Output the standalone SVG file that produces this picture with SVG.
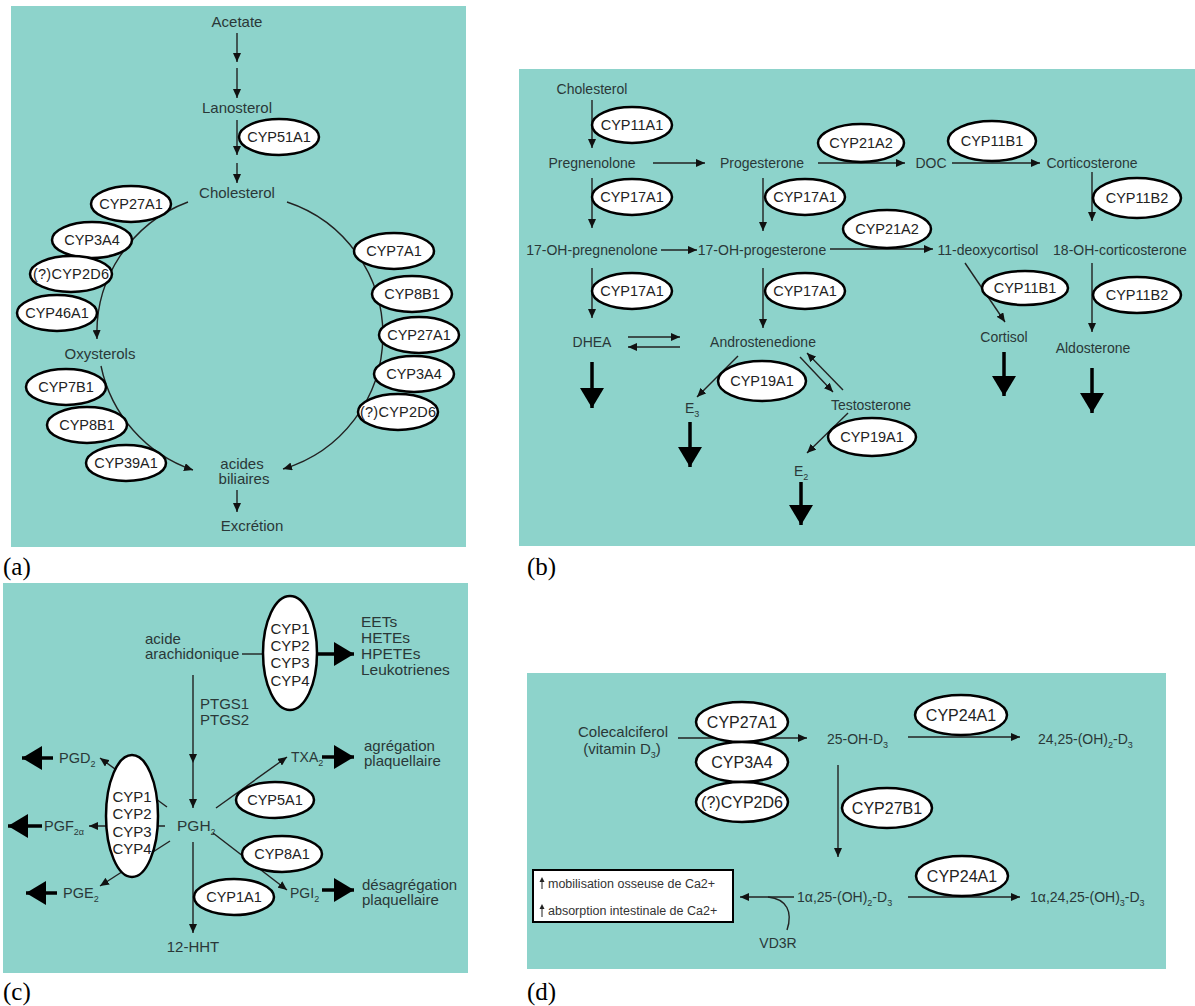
<svg xmlns="http://www.w3.org/2000/svg" width="1195" height="1006" viewBox="0 0 1195 1006">
<defs>
<marker id="a" markerWidth="9" markerHeight="8" refX="9" refY="4" orient="auto" markerUnits="userSpaceOnUse"><path d="M0,0 L9,4 L0,8 z" fill="#111"/></marker>
<marker id="big" markerWidth="20" markerHeight="24" refX="20" refY="12" orient="auto" markerUnits="userSpaceOnUse"><path d="M0,0 L20,12 L0,24 z" fill="#000"/></marker>
</defs>
<style>
.bg{fill:#8dd3cb}
.t{font-family:"Liberation Sans",Arial,sans-serif;font-size:14px;fill:#2a3838}
.ta{font-size:15px}
.tc{font-size:15px}
.tm{text-anchor:middle}
.e{fill:#fff;stroke:#000;stroke-width:2.5}
.el{font-family:"Liberation Sans",Arial,sans-serif;font-size:14.5px;fill:#222;text-anchor:middle}
.c{stroke:#222;stroke-width:1.4;fill:none}
.ar{marker-end:url(#a)}
.th{stroke:#000;stroke-width:3.5;fill:none;marker-end:url(#big)}
.lab{font-family:"Liberation Serif","Times New Roman",serif;font-size:25px;fill:#000}
.sm{font-size:9px}
.box{fill:#fff;stroke:#000;stroke-width:2}
.bt{font-family:"Liberation Sans",Arial,sans-serif;font-size:12.5px;fill:#333}
</style>
<rect class="bg" x="11" y="6" width="455" height="541"/>
<rect class="bg" x="519" y="69" width="676" height="477"/>
<rect class="bg" x="3" y="583" width="465" height="390"/>
<rect class="bg" x="527" y="673" width="639" height="296"/>
<text class="lab" x="3" y="575">(a)</text>
<text class="lab" x="527" y="575">(b)</text>
<text class="lab" x="3" y="1000">(c)</text>
<text class="lab" x="527" y="1000">(d)</text>

<g id="connectors">
<!-- (a) -->
<line class="c ar" x1="237" y1="33" x2="237" y2="62"/>
<line class="c ar" x1="237" y1="68" x2="237" y2="98"/>
<line class="c ar" x1="237" y1="120" x2="237" y2="155"/>
<line class="c ar" x1="237" y1="163" x2="237" y2="183"/>
<path class="c ar" d="M188,202 A140,140 0 0 0 97,339"/>
<path class="c ar" d="M101,366 A140,140 0 0 0 193,470"/>
<path class="c ar" d="M287,202 A140,140 0 0 1 283,469"/>
<line class="c ar" x1="237" y1="490" x2="237" y2="512"/>
<!-- (b) -->
<line class="c ar" x1="592" y1="100" x2="592" y2="148"/>
<line class="c ar" x1="653" y1="163" x2="705" y2="163"/>
<line class="c ar" x1="592" y1="178" x2="592" y2="228"/>
<line class="c ar" x1="763" y1="178" x2="763" y2="231"/>
<line class="c ar" x1="818" y1="163" x2="905" y2="163"/>
<line class="c ar" x1="952" y1="163" x2="1040" y2="163"/>
<line class="c ar" x1="1092" y1="172" x2="1092" y2="221"/>
<line class="c ar" x1="661" y1="250" x2="697" y2="250"/>
<line class="c ar" x1="830" y1="249" x2="933" y2="249"/>
<line class="c ar" x1="592" y1="268" x2="592" y2="318"/>
<line class="c ar" x1="763" y1="268" x2="763" y2="328"/>
<line class="c ar" x1="628" y1="337" x2="680" y2="337"/>
<line class="c ar" x1="680" y1="347" x2="628" y2="347"/>
<line class="c ar" x1="738" y1="356" x2="697" y2="397"/>
<line class="c ar" x1="800" y1="357" x2="833" y2="392"/>
<line class="c ar" x1="843" y1="390" x2="807" y2="353"/>
<line class="c ar" x1="848" y1="413" x2="807" y2="453"/>
<line class="c ar" x1="965" y1="263" x2="1005" y2="322"/>
<line class="c ar" x1="1092" y1="263" x2="1092" y2="332"/>
<line class="th" x1="592" y1="362" x2="592" y2="408"/>
<line class="th" x1="690" y1="422" x2="690" y2="467"/>
<line class="th" x1="801" y1="482" x2="801" y2="525"/>
<line class="th" x1="1004" y1="352" x2="1004" y2="396"/>
<line class="th" x1="1092" y1="368" x2="1092" y2="413"/>
<!-- (c) -->
<line class="c" x1="242" y1="654" x2="264" y2="654"/>
<line class="th" x1="317" y1="654" x2="354" y2="654"/>
<line class="c ar" x1="193" y1="675" x2="193" y2="763"/>
<line class="c ar" x1="193" y1="763" x2="193" y2="808"/>
<line class="c ar" x1="216" y1="808" x2="287" y2="757"/>
<line class="th" x1="322" y1="757" x2="354" y2="757"/>
<line class="c ar" x1="213" y1="833" x2="287" y2="890"/>
<line class="th" x1="322" y1="890" x2="354" y2="890"/>
<line class="c ar" x1="193" y1="842" x2="193" y2="933"/>
<line class="c ar" x1="167" y1="807" x2="100" y2="758"/>
<line class="c ar" x1="165" y1="826" x2="89" y2="826"/>
<line class="c ar" x1="170" y1="841" x2="100" y2="886"/>
<line class="th" x1="53" y1="758" x2="22" y2="758"/>
<line class="th" x1="42" y1="826" x2="8" y2="826"/>
<line class="th" x1="57" y1="893" x2="26" y2="893"/>
<!-- (d) -->
<line class="c ar" x1="678" y1="738" x2="807" y2="738"/>
<line class="c ar" x1="908" y1="737" x2="1020" y2="737"/>
<line class="c ar" x1="838" y1="765" x2="838" y2="857"/>
<line class="c ar" x1="908" y1="897" x2="1020" y2="897"/>
<line class="c ar" x1="794" y1="897" x2="740" y2="897"/>
<path class="c" d="M787,930 C793,912 787,899 768,897"/>
</g>

<!-- (a) nodes -->
<g id="a-text">
<text class="t ta tm" x="237" y="27">Acetate</text>
<text class="t ta tm" x="237" y="113">Lanosterol</text>
<text class="t ta tm" x="237" y="198">Cholesterol</text>
<text class="t ta tm" x="100" y="359">Oxysterols</text>
<text class="t ta tm" x="242" y="469">acides</text>
<text class="t ta tm" x="244" y="484">biliaires</text>
<text class="t ta tm" x="252" y="531">Excrétion</text>
</g>
<g id="a-CYP51A1"><ellipse class="e" cx="279" cy="137" rx="40" ry="18"/><text class="el" x="279" y="142">CYP51A1</text></g>
<g id="a-CYP27A1-l"><ellipse class="e" cx="131" cy="204" rx="40" ry="18"/><text class="el" x="131" y="209">CYP27A1</text></g>
<g id="a-CYP3A4-l"><ellipse class="e" cx="92" cy="240" rx="40" ry="18"/><text class="el" x="92" y="245">CYP3A4</text></g>
<g id="a-CYP2D6-l"><ellipse class="e" cx="71" cy="274" rx="41" ry="18"/><text class="el" x="71" y="279" textLength="76">(?)CYP2D6</text></g>
<g id="a-CYP46A1"><ellipse class="e" cx="57" cy="313" rx="40" ry="18"/><text class="el" x="57" y="318">CYP46A1</text></g>
<g id="a-CYP7B1"><ellipse class="e" cx="66" cy="387" rx="40" ry="18"/><text class="el" x="66" y="392">CYP7B1</text></g>
<g id="a-CYP8B1-l"><ellipse class="e" cx="87" cy="425" rx="40" ry="18"/><text class="el" x="87" y="430">CYP8B1</text></g>
<g id="a-CYP39A1"><ellipse class="e" cx="126" cy="463" rx="40" ry="18"/><text class="el" x="126" y="468">CYP39A1</text></g>
<g id="a-CYP7A1"><ellipse class="e" cx="394" cy="251" rx="40" ry="18"/><text class="el" x="394" y="256">CYP7A1</text></g>
<g id="a-CYP8B1-r"><ellipse class="e" cx="412" cy="294" rx="40" ry="18"/><text class="el" x="412" y="299">CYP8B1</text></g>
<g id="a-CYP27A1-r"><ellipse class="e" cx="419" cy="335" rx="40" ry="18"/><text class="el" x="419" y="340">CYP27A1</text></g>
<g id="a-CYP3A4-r"><ellipse class="e" cx="414" cy="374" rx="40" ry="18"/><text class="el" x="414" y="379">CYP3A4</text></g>
<g id="a-CYP2D6-r"><ellipse class="e" cx="398" cy="412" rx="40" ry="18"/><text class="el" x="398" y="417" textLength="76">(?)CYP2D6</text></g>

<!-- (b) nodes -->
<g id="b-text">
<text class="t tm" x="592" y="94">Cholesterol</text>
<text class="t tm" x="592" y="168">Pregnenolone</text>
<text class="t tm" x="762" y="168">Progesterone</text>
<text class="t tm" x="931" y="168">DOC</text>
<text class="t tm" x="1092" y="168">Corticosterone</text>
<text class="t tm" x="592" y="255">17-OH-pregnenolone</text>
<text class="t tm" x="762" y="255">17-OH-progesterone</text>
<text class="t tm" x="988" y="255">11-deoxycortisol</text>
<text class="t tm" x="1120" y="255">18-OH-corticosterone</text>
<text class="t tm" x="592" y="347">DHEA</text>
<text class="t tm" x="763" y="347">Androstenedione</text>
<text class="t tm" x="871" y="410">Testosterone</text>
<text class="t" x="685" y="413">E<tspan class="sm" dy="4">3</tspan></text>
<text class="t" x="794" y="476">E<tspan class="sm" dy="4">2</tspan></text>
<text class="t tm" x="1004" y="342">Cortisol</text>
<text class="t tm" x="1093" y="353">Aldosterone</text>
</g>
<g id="b-CYP11A1"><ellipse class="e" cx="632" cy="125" rx="40" ry="18"/><text class="el" x="632" y="130">CYP11A1</text></g>
<g id="b-CYP17A1-1"><ellipse class="e" cx="632" cy="197" rx="40" ry="18"/><text class="el" x="632" y="202">CYP17A1</text></g>
<g id="b-CYP17A1-2"><ellipse class="e" cx="805" cy="197" rx="40" ry="18"/><text class="el" x="805" y="202">CYP17A1</text></g>
<g id="b-CYP21A2-1"><ellipse class="e" cx="861" cy="143" rx="43" ry="19"/><text class="el" x="861" y="148">CYP21A2</text></g>
<g id="b-CYP11B1-1"><ellipse class="e" cx="992" cy="141" rx="44" ry="20"/><text class="el" x="992" y="146">CYP11B1</text></g>
<g id="b-CYP11B2-1"><ellipse class="e" cx="1137" cy="198" rx="44" ry="20"/><text class="el" x="1137" y="203">CYP11B2</text></g>
<g id="b-CYP21A2-2"><ellipse class="e" cx="887" cy="229" rx="44" ry="19"/><text class="el" x="887" y="234">CYP21A2</text></g>
<g id="b-CYP17A1-3"><ellipse class="e" cx="632" cy="291" rx="40" ry="18"/><text class="el" x="632" y="296">CYP17A1</text></g>
<g id="b-CYP17A1-4"><ellipse class="e" cx="805" cy="291" rx="40" ry="18"/><text class="el" x="805" y="296">CYP17A1</text></g>
<g id="b-CYP19A1-1"><ellipse class="e" cx="762" cy="381" rx="44" ry="20"/><text class="el" x="762" y="386">CYP19A1</text></g>
<g id="b-CYP19A1-2"><ellipse class="e" cx="872" cy="437" rx="44" ry="19"/><text class="el" x="872" y="442">CYP19A1</text></g>
<g id="b-CYP11B1-2"><ellipse class="e" cx="1025" cy="288" rx="43" ry="17"/><text class="el" x="1025" y="293">CYP11B1</text></g>
<g id="b-CYP11B2-2"><ellipse class="e" cx="1137" cy="295" rx="44" ry="18"/><text class="el" x="1137" y="300">CYP11B2</text></g>

<!-- (c) nodes -->
<g id="c-text">
<text class="t tc" x="145" y="644">acide</text>
<text class="t tc" x="145" y="659">arachidonique</text>
<text class="t" x="361" y="627" style="font-size:15.5px">EETs</text>
<text class="t" x="361" y="643" style="font-size:15.5px">HETEs</text>
<text class="t" x="361" y="659" style="font-size:15.5px">HPETEs</text>
<text class="t" x="361" y="675" style="font-size:15.5px">Leukotrienes</text>
<text class="t tc" x="200" y="709">PTGS1</text>
<text class="t tc" x="200" y="725">PTGS2</text>
<text class="t" x="177" y="831" style="font-size:15.5px">PGH<tspan class="sm" dy="4">2</tspan></text>
<text class="t" x="291" y="762">TXA<tspan class="sm" dy="4">2</tspan></text>
<text class="t tc" x="364" y="751">agrégation</text>
<text class="t tc" x="364" y="766">plaquellaire</text>
<text class="t" x="290" y="898">PGI<tspan class="sm" dy="4">2</tspan></text>
<text class="t tc" x="362" y="890">désagrégation</text>
<text class="t tc" x="362" y="905">plaquellaire</text>
<text class="t tc tm" x="193" y="952">12-HHT</text>
<text class="t" x="59" y="763" style="font-size:14.5px">PGD<tspan class="sm" dy="4">2</tspan></text>
<text class="t" x="44" y="831" style="font-size:14.5px">PGF<tspan class="sm" dy="4">2α</tspan></text>
<text class="t" x="63" y="898" style="font-size:14.5px">PGE<tspan class="sm" dy="4">2</tspan></text>
</g>
<g id="c-CYP1234-top"><ellipse class="e" cx="290" cy="653" rx="27" ry="57"/>
<text class="el" x="290" y="634" style="font-size:15px">CYP1</text><text class="el" x="290" y="651" style="font-size:15px">CYP2</text><text class="el" x="290" y="668" style="font-size:15px">CYP3</text><text class="el" x="290" y="686" style="font-size:15px">CYP4</text></g>
<g id="c-CYP1234-left"><ellipse class="e" cx="132" cy="816" rx="26" ry="61"/>
<text class="el" x="132" y="802" style="font-size:15px">CYP1</text><text class="el" x="132" y="819" style="font-size:15px">CYP2</text><text class="el" x="132" y="837" style="font-size:15px">CYP3</text><text class="el" x="132" y="854" style="font-size:15px">CYP4</text></g>
<g id="c-CYP5A1"><ellipse class="e" cx="275" cy="800" rx="39" ry="18"/><text class="el" x="275" y="805">CYP5A1</text></g>
<g id="c-CYP8A1"><ellipse class="e" cx="282" cy="854" rx="40" ry="18"/><text class="el" x="282" y="859">CYP8A1</text></g>
<g id="c-CYP1A1"><ellipse class="e" cx="234" cy="897" rx="40" ry="18"/><text class="el" x="234" y="902">CYP1A1</text></g>

<!-- (d) nodes -->
<g id="d-text">
<text class="t tm" x="623" y="737" style="font-size:15px">Colecalciferol</text>
<text class="t tm" x="622" y="754" style="font-size:15px">(vitamin D<tspan class="sm" dy="4">3</tspan><tspan dy="-4">)</tspan></text>
<text class="t" x="827" y="744">25-OH-D<tspan class="sm" dy="4">3</tspan></text>
<text class="t" x="1038" y="744">24,25-(OH)<tspan class="sm" dy="4">2</tspan><tspan dy="-4">-D</tspan><tspan class="sm" dy="4">3</tspan></text>
<text class="t" x="797" y="902">1α,25-(OH)<tspan class="sm" dy="4">2</tspan><tspan dy="-4">-D</tspan><tspan class="sm" dy="4">3</tspan></text>
<text class="t" x="1030" y="902">1α,24,25-(OH)<tspan class="sm" dy="4">3</tspan><tspan dy="-4">-D</tspan><tspan class="sm" dy="4">3</tspan></text>
<text class="t tm" x="778" y="948">VD3R</text>
</g>
<g id="d-box"><rect class="box" x="533" y="870" width="200" height="52"/>
<path d="M542,889 V881" stroke="#222" stroke-width="1"/>
<path d="M539.5,882 L542,877 L544.5,882 z" fill="#222"/>
<path d="M542,917 V908" stroke="#222" stroke-width="1"/>
<path d="M539.5,909 L542,904 L544.5,909 z" fill="#222"/>
<text class="bt" x="548" y="888">mobilisation osseuse de Ca2+</text>
<text class="bt" x="548" y="915">absorption intestinale de Ca2+</text></g>
<g id="d-CYP27A1"><ellipse class="e" cx="742" cy="722" rx="46" ry="20"/><text class="el" x="742" y="728" style="font-size:16px">CYP27A1</text></g>
<g id="d-CYP3A4"><ellipse class="e" cx="742" cy="762" rx="46" ry="20"/><text class="el" x="742" y="768" style="font-size:16px">CYP3A4</text></g>
<g id="d-CYP2D6"><ellipse class="e" cx="742" cy="802" rx="46" ry="20"/><text class="el" x="742" y="808" style="font-size:16px">(?)CYP2D6</text></g>
<g id="d-CYP24A1-1"><ellipse class="e" cx="961" cy="715" rx="46" ry="20"/><text class="el" x="961" y="721" style="font-size:16px">CYP24A1</text></g>
<g id="d-CYP27B1"><ellipse class="e" cx="887" cy="808" rx="45" ry="20"/><text class="el" x="887" y="814" style="font-size:16px">CYP27B1</text></g>
<g id="d-CYP24A1-2"><ellipse class="e" cx="962" cy="876" rx="46" ry="20"/><text class="el" x="962" y="882" style="font-size:16px">CYP24A1</text></g>
</svg>
